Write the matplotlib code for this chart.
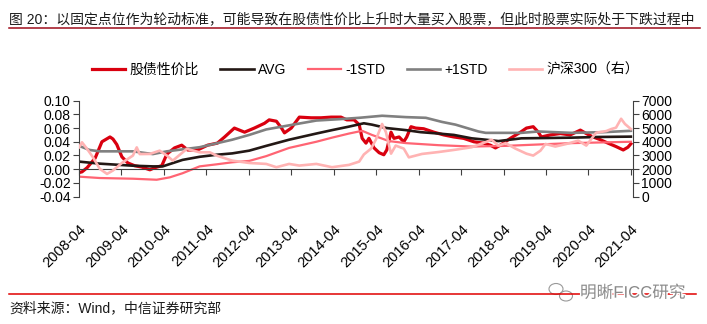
import numpy as np
import matplotlib
matplotlib.use('Agg')
import matplotlib.pyplot as plt
from matplotlib.lines import Line2D
from matplotlib.patches import Ellipse
import matplotlib.patheffects as pe

plt.rcParams['font.family'] = ['Liberation Sans', 'Noto Sans CJK SC']
plt.rcParams['axes.unicode_minus'] = False

# 股债性价比 (左轴), 时间用小数年表示
red_t = [2008.25, 2008.32, 2008.44, 2008.63, 2008.79, 2008.98,
         2009.05, 2009.14, 2009.26, 2009.40, 2009.56, 2009.73, 2009.92,
         2010.03, 2010.20, 2010.32, 2010.50, 2010.67, 2010.81,
         2011.04, 2011.28, 2011.51, 2011.68, 2011.91,
         2012.15, 2012.38, 2012.62, 2012.73, 2012.90,
         2013.02, 2013.09, 2013.25, 2013.44, 2013.72, 2013.95,
         2014.19, 2014.42, 2014.56, 2014.73, 2014.85, 2014.92,
         2015.01, 2015.08, 2015.20, 2015.32, 2015.43, 2015.50, 2015.60, 2015.67, 2015.79, 2015.90, 2015.97,
         2016.07, 2016.18, 2016.37, 2016.61, 2016.84,
         2017.08, 2017.31, 2017.55, 2017.78, 2017.94,
         2018.06, 2018.20, 2018.41, 2018.65, 2018.79, 2018.95,
         2019.07, 2019.14, 2019.35, 2019.59, 2019.82,
         2020.06, 2020.20, 2020.36, 2020.53, 2020.71, 2020.90,
         2021.07, 2021.18, 2021.25]
red_v = [-0.005, -0.004, 0.002, 0.016, 0.040, 0.047,
         0.044, 0.036, 0.018, 0.009, 0.005, 0.003, -0.001,
         0.002, 0.005, 0.022, 0.031, 0.035, 0.028,
         0.028, 0.035, 0.038, 0.047, 0.060,
         0.054, 0.060, 0.067, 0.072, 0.070,
         0.060, 0.053, 0.060, 0.076, 0.075, 0.075,
         0.076, 0.076, 0.072, 0.072, 0.065, 0.045,
         0.038, 0.045, 0.031, 0.024, 0.021, 0.028, 0.054, 0.045, 0.047, 0.040, 0.047,
         0.062, 0.060, 0.059, 0.054, 0.050,
         0.047, 0.045, 0.040, 0.038, 0.035,
         0.031, 0.036, 0.045, 0.054, 0.060, 0.062,
         0.054, 0.047, 0.050, 0.052, 0.050,
         0.057, 0.052, 0.047, 0.043, 0.038, 0.033,
         0.028, 0.032, 0.037]

# AVG
avg_t = [2008.25, 2008.74, 2009.52, 2009.99, 2010.22, 2010.69, 2011.09, 2011.49, 2011.86,
         2012.26, 2012.66, 2013.20, 2013.84, 2014.21, 2014.60, 2014.96, 2015.15, 2015.50,
         2015.95, 2016.30, 2016.72, 2017.08, 2017.50, 2017.83, 2018.13, 2018.67, 2019.30,
         2019.85, 2020.50, 2021.25]
avg_v = [0.011, 0.008, 0.005, 0.004, 0.004, 0.0135, 0.018, 0.021, 0.023,
         0.027, 0.034, 0.043, 0.052, 0.057, 0.062, 0.067, 0.065, 0.060,
         0.057, 0.054, 0.052, 0.050, 0.045, 0.043, 0.041, 0.045, 0.0455,
         0.046, 0.047, 0.0475]

# -1STD
lo_t = [2008.25, 2008.74, 2009.52, 2010.08, 2010.39, 2010.69, 2011.09, 2011.49, 2011.86,
        2012.26, 2012.66, 2013.20, 2013.84, 2014.21, 2014.61, 2014.92, 2015.15, 2015.55,
        2015.95, 2016.72, 2017.50, 2018.30, 2019.07, 2019.85, 2021.25]
lo_v = [-0.011, -0.013, -0.014, -0.0155, -0.012, -0.006, 0.004, 0.007, 0.010,
        0.012, 0.019, 0.031, 0.040, 0.046, 0.052, 0.056, 0.050, 0.041,
        0.038, 0.035, 0.033, 0.034, 0.036, 0.038, 0.040]

# +1STD
hi_t = [2008.25, 2008.50, 2008.74, 2009.52, 2009.99, 2010.32, 2011.09, 2011.86, 2012.26,
        2012.66, 2013.20, 2013.84, 2014.38, 2014.85, 2015.39, 2015.95, 2016.42, 2016.80,
        2017.12, 2017.66, 2017.83, 2018.67, 2019.07, 2019.85, 2020.60, 2021.25]
hi_v = [0.034, 0.028, 0.026, 0.026, 0.022, 0.026, 0.032, 0.043, 0.050,
        0.058, 0.064, 0.071, 0.073, 0.075, 0.078, 0.076, 0.075, 0.069,
        0.065, 0.055, 0.053, 0.053, 0.055, 0.053, 0.054, 0.056]

# 沪深300 (右轴)
hs_t = [2008.25, 2008.32, 2008.44, 2008.58, 2008.74, 2008.91,
        2009.05, 2009.28, 2009.52, 2009.61, 2009.68, 2009.92,
        2010.15, 2010.32, 2010.46, 2010.79,
        2011.09, 2011.33, 2011.49, 2011.86,
        2012.26, 2012.66, 2012.90,
        2013.20, 2013.44, 2013.84,
        2014.21, 2014.61, 2014.85, 2014.96,
        2015.13, 2015.25, 2015.39, 2015.48, 2015.60, 2015.71, 2015.90,
        2016.02, 2016.33, 2016.72,
        2017.12, 2017.50, 2017.85, 2017.97,
        2018.13, 2018.30, 2018.53, 2018.79, 2018.95,
        2019.12, 2019.24, 2019.47, 2019.73,
        2020.01, 2020.20, 2020.43, 2020.67, 2020.79, 2020.90,
        2021.02, 2021.11, 2021.25]
hs_v = [3590, 3960, 3480, 2860, 2020, 1650,
        1900, 2500, 2990, 3590, 3100, 3110,
        3350, 2990, 2620, 3480,
        3230, 3230, 2990, 2620,
        2450, 2380, 2140,
        2380, 2260, 2380,
        2140, 2310, 2550, 3070,
        3500, 4200, 5300, 4700, 3130, 3720, 3500,
        2860, 3110, 3250,
        3420, 3600, 4000, 4150,
        3720, 3900, 3500, 3130, 2990,
        3350, 3840, 3650, 3840,
        4080, 3720, 4660, 4780, 4930, 5030,
        5680, 5300, 4930]

tick_years = list(range(2008, 2022))
tick_labels = [f'{y}-04' for y in tick_years]

W, H = 707, 324
fig = plt.figure(figsize=(W / 100, H / 100), dpi=100)
ax = fig.add_axes([79 / W, 1 - 196.5 / H, (633 - 79) / W, (196.5 - 100.7) / H])
ax2 = ax.twinx()

# 横轴放在 0 的位置 (先设置, 否则会重置刻度标签样式)
sc = '#404040'
ax.spines['top'].set_visible(False)
ax.spines['right'].set_visible(False)
ax.spines['bottom'].set_position(('data', 0))
ax.spines['bottom'].set_color(sc)
ax.spines['left'].set_color(sc)
for s in ['top', 'left', 'bottom']:
    ax2.spines[s].set_visible(False)
ax2.spines['right'].set_color(sc)

c_red, c_avg, c_lo, c_hi, c_hs = '#d9000f', '#231815', '#ff6473', '#808080', '#ffb3b3'
ax.plot(red_t, red_v, color=c_red, lw=2.3, label='股债性价比')
ax.plot(avg_t, avg_v, color=c_avg, lw=1.9, label='AVG')
ax.plot(lo_t, lo_v, color=c_lo, lw=1.6, label='-1STD')
ax.plot(hi_t, hi_v, color=c_hi, lw=1.9, label='+1STD')
ax2.plot(hs_t, hs_v, color=c_hs, lw=1.9, label='沪深300（右）')

ax.set_xlim(2008.25, 2021.3)
ax.set_ylim(-0.04, 0.10)
ax.set_yticks(np.arange(-0.04, 0.101, 0.02))
ax.set_yticklabels([f'{v:.2f}' for v in np.arange(-0.04, 0.101, 0.02)])
ax2.set_ylim(0, 7000)
ax2.set_yticks(range(0, 7001, 1000))

ax.set_xticks([y + 0.25 for y in tick_years])
ax.set_xticklabels(tick_labels)

ax.tick_params(axis='y', direction='out', length=4, labelsize=10, color=sc, pad=2)
ax.tick_params(axis='x', direction='out', length=4, labelsize=10.5, color=sc, pad=34)
ax2.tick_params(axis='y', direction='out', length=4, labelsize=10, color=sc, pad=2)
for lab in ax.get_xticklabels():
    lab.set_rotation(45)
    lab.set_ha('right')
    lab.set_rotation_mode('anchor')
ax.patch.set_visible(False)

h1, l1 = ax.get_legend_handles_labels()
h2, l2 = ax2.get_legend_handles_labels()
fig.legend(h1 + h2, l1 + l2, loc='center', bbox_to_anchor=(0.517, 1 - 70 / H), ncol=5,
           frameon=False, fontsize=10, handlelength=2.4, handletextpad=0.3, columnspacing=1.55)

fig.text(9 / W, 1 - 19 / H,
         '图 20：以固定点位作为轮动标准，可能导致在股债性价比上升时大量买入股票，但此时股票实际处于下跌过程中',
         fontsize=10, ha='left', va='center', color='#1a1a1a')
fig.add_artist(Line2D([9 / W, 700 / W], [1 - 28 / H, 1 - 28 / H], color='#9e0b1a', lw=1.1))
fig.add_artist(Line2D([9 / W, 696 / W], [1 - 294 / H, 1 - 294 / H], color='#e00000', lw=1.1))
fig.text(9 / W, 1 - 308 / H, '资料来源：Wind，中信证券研究部', fontsize=10,
         ha='left', va='center', color='#1a1a1a')

# 水印
fig.text(580 / W, 1 - 293 / H, '明晰FICC研究', fontsize=12, ha='left', va='center', color='#8a8a8a',
         path_effects=[pe.withStroke(linewidth=2, foreground='white')])
fig.add_artist(Ellipse((556 / W, 1 - 289 / H), 14 / W, 11 / H, fill=False, ec='#999999', lw=0.8))
fig.add_artist(Ellipse((566 / W, 1 - 296 / H), 13 / W, 10 / H, fill=False, ec='#999999', lw=0.8))

fig.savefig('out.png', dpi=100)
